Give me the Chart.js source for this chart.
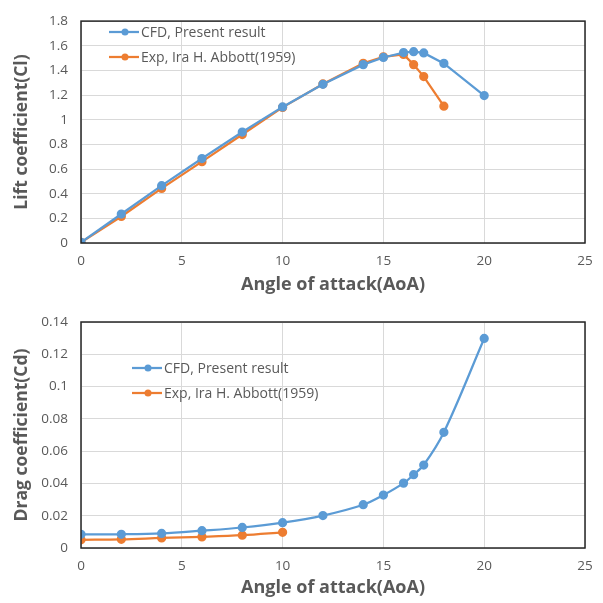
<!DOCTYPE html>
<html>
<head>
<meta charset="utf-8">
<script src="https://cdn.jsdelivr.net/npm/chart.js@4/dist/chart.umd.min.js"></script>
<style>
  html, body { margin: 0; padding: 0; background: #fff; }
  .box { position: relative; width: 603px; }
</style>
</head>
<body>
<div class="box" style="height:300px"><canvas id="liftChart"></canvas></div>
<div class="box" style="height:303px"><canvas id="dragChart"></canvas></div>
<script>
const blue = '#5b9bd5';
const orange = '#ed7d31';
const textGray = '#595959';
const fontFam = "'Open Sans', 'Noto Sans', sans-serif";

// data
const cfdAoa = [0, 2, 4, 6, 8, 10, 12, 14, 15, 16, 16.5, 17, 18, 20];
const cfdCl = [0.005, 0.235, 0.465, 0.685, 0.9, 1.104, 1.287, 1.447, 1.505, 1.545, 1.552, 1.542, 1.457, 1.196];
const expClAoa = [0, 2, 4, 6, 8, 10, 12, 14, 15, 16, 16.5, 17, 18];
const expCl = [0.005, 0.215, 0.443, 0.66, 0.88, 1.1, 1.29, 1.457, 1.51, 1.53, 1.447, 1.35, 1.11];

const cfdCd = [0.0085, 0.0085, 0.009, 0.0107, 0.0127, 0.0157, 0.0201, 0.0268, 0.0328, 0.0402, 0.0454, 0.0514, 0.0717, 0.1298];
const expCdAoa = [0, 2, 4, 6, 8, 10];
const expCd = [0.0051, 0.0054, 0.0062, 0.0069, 0.0079, 0.0097];

const cfdLabel = 'CFD, Present result';
const expLabel = 'Exp, Ira H. Abbott(1959)';

const pts = (xs, ys) => xs.map((x, i) => ({ x: x, y: ys[i] }));

// legend drawn inside the plot area, Excel style
function innerLegend(lineX, rowY) {
  return {
    id: 'innerLegend',
    afterDatasetsDraw(chart) {
      const ctx = chart.ctx;
      ctx.save();
      chart.data.datasets.forEach((ds, i) => {
        const y = rowY[i];
        ctx.strokeStyle = ds.borderColor;
        ctx.lineWidth = 2.25;
        ctx.beginPath();
        ctx.moveTo(lineX, y);
        ctx.lineTo(lineX + 30, y);
        ctx.stroke();
        ctx.fillStyle = ds.borderColor;
        ctx.beginPath();
        ctx.arc(lineX + 16, y, 3.5, 0, Math.PI * 2);
        ctx.fill();
        ctx.fillStyle = textGray;
        ctx.font = '14px ' + fontFam;
        ctx.textBaseline = 'middle';
        ctx.fillText(ds.label, lineX + 32, y + 1);
      });
      ctx.restore();
    }
  };
}

const frame = {
  id: 'frame',
  afterDraw(chart) {
    const a = chart.chartArea;
    const ctx = chart.ctx;
    ctx.save();
    ctx.strokeStyle = '#262626';
    ctx.lineWidth = 1.5;
    ctx.strokeRect(a.left, a.top, a.right - a.left, a.bottom - a.top);
    ctx.restore();
  }
};

function makeChart(id, datasets, yMax, yStep, yTitle, tension, padTop, xHeight, legendX, legendRows) {
  return new Chart(document.getElementById(id), {
    type: 'line',
    data: { datasets: datasets.map(d => Object.assign({
      borderWidth: 2.25,
      pointRadius: 3.5,
      pointHoverRadius: 3.5,
      tension: tension,
      fill: false
    }, d)) },
    options: {
      responsive: true,
      maintainAspectRatio: false,
      animation: false,
      layout: { padding: { top: padTop, right: 18, bottom: 0, left: 12 } },
      plugins: { legend: { display: false }, tooltip: { enabled: false } },
      scales: {
        x: {
          type: 'linear', min: 0, max: 25,
          afterFit: s => { s.height = xHeight; },
          ticks: { stepSize: 5, color: textGray, font: { family: fontFam, size: 13.5 }, padding: 10 },
          grid: { color: '#d9d9d9', drawTicks: false },
          border: { display: false },
          title: { display: true, text: 'Angle of attack(AoA)', color: textGray,
                   font: { family: fontFam, size: 18, weight: 'bold' }, padding: { top: 1 } }
        },
        y: {
          min: 0, max: yMax,
          afterFit: s => { s.width = 69; },
          ticks: { stepSize: yStep, color: textGray, font: { family: fontFam, size: 13.5 }, padding: 13,
                   callback: v => +v.toFixed(2) },
          grid: { color: '#d9d9d9', drawTicks: false },
          border: { display: false },
          title: { display: true, text: yTitle, color: textGray,
                   font: { family: fontFam, size: 17.5, weight: 'bold' }, padding: { top: 0, bottom: 2 } }
        }
      }
    },
    plugins: [frame, innerLegend(legendX, legendRows)]
  });
}

makeChart('liftChart', [
  { label: cfdLabel, data: pts(cfdAoa, cfdCl), borderColor: blue, backgroundColor: blue },
  { label: expLabel, data: pts(expClAoa, expCl), borderColor: orange, backgroundColor: orange }
], 1.8, 0.2, 'Lift coefficient(Cl)', 0, 17, 57, 109, [32, 57]);

makeChart('dragChart', [
  { label: cfdLabel, data: pts(cfdAoa, cfdCd), borderColor: blue, backgroundColor: blue },
  { label: expLabel, data: pts(expCdAoa, expCd), borderColor: orange, backgroundColor: orange }
], 0.14, 0.02, 'Drag coefficient(Cd)', 0.35, 22, 55, 132, [68, 93]);
</script>
</body>
</html>
